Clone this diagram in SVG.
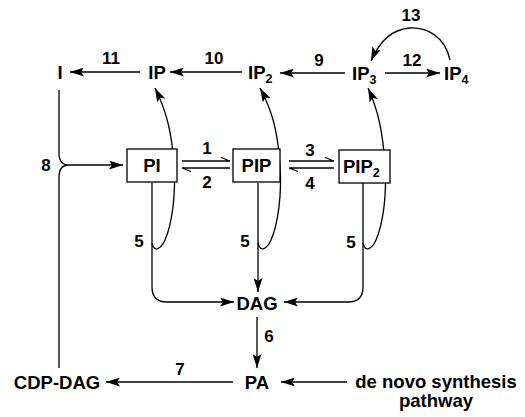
<svg xmlns="http://www.w3.org/2000/svg" width="525" height="417" viewBox="0 0 525 417">
<defs>
<marker id="ah" markerUnits="userSpaceOnUse" markerWidth="15" markerHeight="9" refX="14" refY="4.5" orient="auto">
<path d="M0,0 L14,4.5 L0,9 L3,4.5 z" fill="#000"/>
</marker>
<style>
text{font-family:"Liberation Sans",Arial,sans-serif;font-weight:bold;fill:#000}
.t{font-size:18.5px}
.n{font-size:17px}
.s{font-size:12.5px}
.c{fill:none;stroke:#000;stroke-width:1.3}
.a{marker-end:url(#ah)}
.box{fill:#fff;stroke:#000;stroke-width:1.3}
</style>
</defs>
<rect width="525" height="417" fill="#fff"/>
<g id="connectors">
<path class="c a" d="M140,72 H70"/>
<path class="c a" d="M242,72 H170"/>
<path class="c a" d="M345,73 H280"/>
<path class="c a" d="M385,73 H440"/>
<path class="c a" d="M450,60 C445,36 426,27 410,28 C394,29 380,40 371,61"/>
<path class="c a" d="M152,243 C154,253 161,249 165,240 C172,224 176,195 174,166 C172,132 166,110 155,88"/>
<path class="c a" d="M258,243 C260,253 267,249 271,240 C278,224 282,195 280,166 C278,132 272,110 260,88"/>
<path class="c a" d="M363,243 C365,253 372,249 376,240 C383,224 387,195 385,166 C383,132 378,110 368,88"/>
<path class="c" d="M182,161 H230 M230,161 L221,157.5"/>
<path class="c" d="M182,168 H230 M182,168 L191,171.5"/>
<path class="c" d="M289,161 H334 M334,161 L325,157.5"/>
<path class="c" d="M289,168 H334 M289,168 L298,171.5"/>
<path class="c a" d="M152,183 V287 Q152,302 167,302 H234"/>
<path class="c a" d="M258,183 V292"/>
<path class="c a" d="M363,183 V287 Q363,302 348,302 H284"/>
<path class="c a" d="M257,317 V368"/>
<path class="c a" d="M233,382 H106"/>
<path class="c a" d="M347,382 H281"/>
<path class="c" d="M59,90 V153 C59,161 63,165 69,165 C63,165 59,169 59,177 V368"/>
<path class="c a" d="M69,165 H123"/>
</g>
<g id="labels">
<text class="n" x="111" y="64" text-anchor="middle">11</text>
<text class="n" x="214" y="64" text-anchor="middle">10</text>
<text class="n" x="319" y="66" text-anchor="middle">9</text>
<text class="n" x="412" y="66" text-anchor="middle">12</text>
<text class="n" x="411" y="21" text-anchor="middle">13</text>
<text class="n" x="207" y="154" text-anchor="middle">1</text>
<text class="n" x="207" y="188" text-anchor="middle">2</text>
<text class="n" x="310" y="156" text-anchor="middle">3</text>
<text class="n" x="310" y="189" text-anchor="middle">4</text>
<text class="n" x="139" y="247" text-anchor="middle">5</text>
<text class="n" x="245" y="247" text-anchor="middle">5</text>
<text class="n" x="351" y="248" text-anchor="middle">5</text>
<text class="n" x="46" y="171" text-anchor="middle">8</text>
<text class="n" x="269" y="342" text-anchor="middle">6</text>
<text class="n" x="180" y="375" text-anchor="middle">7</text>
</g>
<g id="I"><text class="t" x="60" y="79" text-anchor="middle">I</text></g>
<g id="IP"><text class="t" x="157" y="79" text-anchor="middle">IP</text></g>
<g id="IP2"><text class="t" x="248" y="79">IP<tspan class="s" dy="4">2</tspan></text></g>
<g id="IP3"><text class="t" x="352" y="80">IP<tspan class="s" dy="4">3</tspan></text></g>
<g id="IP4"><text class="t" x="444" y="80">IP<tspan class="s" dy="4">4</tspan></text></g>
<g id="PI"><rect class="box" x="127" y="149" width="50" height="33"/><text class="t" x="152" y="172" text-anchor="middle">PI</text></g>
<g id="PIP"><rect class="box" x="233" y="149" width="47" height="33"/><text class="t" x="256.5" y="172" text-anchor="middle">PIP</text></g>
<g id="PIP2"><rect class="box" x="339" y="150" width="51" height="33"/><text class="t" x="343" y="173">PIP<tspan class="s" dy="4">2</tspan></text></g>
<g id="DAG"><text class="t" x="257" y="310" text-anchor="middle">DAG</text></g>
<g id="PA"><text class="t" x="257" y="389" text-anchor="middle">PA</text></g>
<g id="CDP-DAG"><text class="t" x="57" y="389" text-anchor="middle">CDP-DAG</text></g>
<g id="denovo"><text class="t" x="436" y="388" text-anchor="middle">de novo synthesis</text><text class="t" x="436" y="407" text-anchor="middle">pathway</text></g>
</svg>
